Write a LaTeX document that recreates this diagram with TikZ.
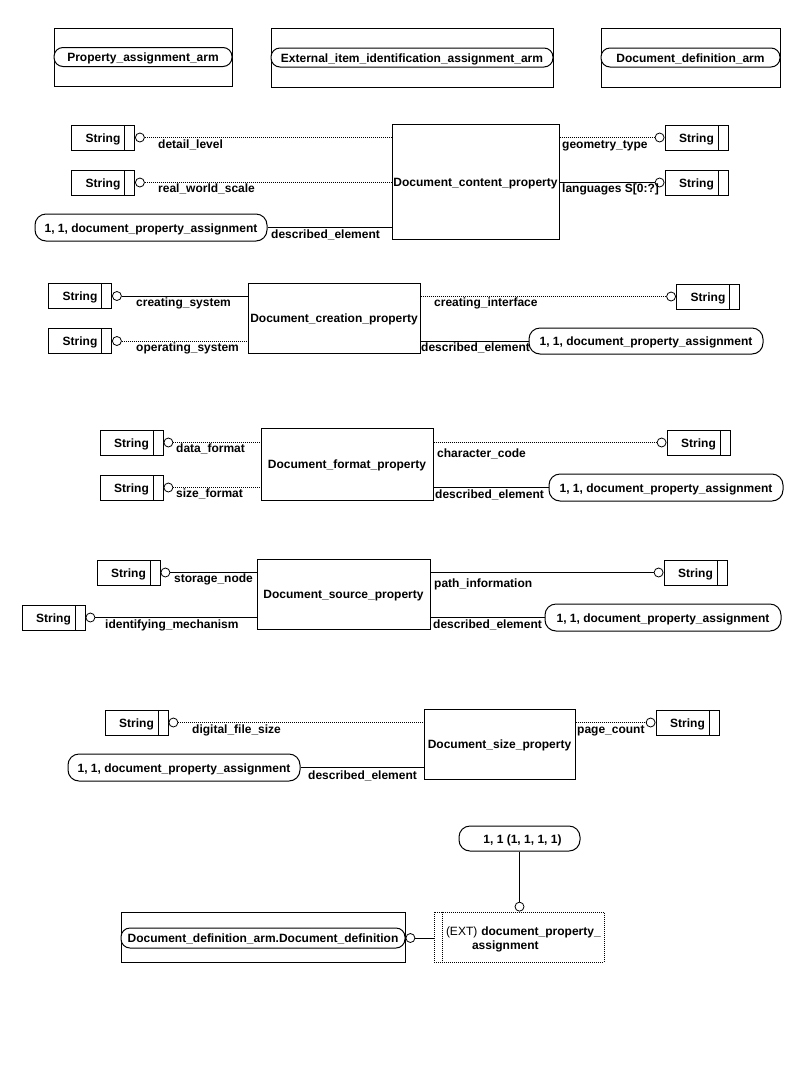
\documentclass[tikz,border=0pt]{standalone}
\usepackage{fontspec}
\setmainfont{Liberation Sans}
\begin{document}
\begin{tikzpicture}[x=1pt,y=-1pt,
  font=\fontsize{12}{14}\selectfont\bfseries,
  every node/.style={inner sep=0pt},
  frame/.style 2 args={draw, line width=1pt, minimum width=#1, minimum height=#2, text height=9pt, text depth=0pt},
  pill/.style 2 args={draw, line width=1pt, rounded corners=9pt, minimum width=#1, minimum height=#2, fill=white, text height=9pt, text depth=0pt},
  strbox/.style={draw, line width=1pt, minimum width=63pt, minimum height=25pt, text height=9pt, text depth=0pt,
    path picture={\draw[line width=1pt] ([xshift=-10pt]path picture bounding box.north east) -- ([xshift=-10pt]path picture bounding box.south east);}},
  conn/.style={draw, circle, line width=0.8pt, fill=white, minimum size=9pt},
  lab/.style={anchor=base west},
  solidl/.style={line width=1pt},
  dotl/.style={line width=0.9pt, dash pattern=on 1pt off 1pt},
]
\fill[white] (0,0) rectangle (810,1080);
\useasboundingbox (0,0) rectangle (810,1080);

% ---------- top row ----------
\node[frame={178pt}{58pt}] (b1) at (143,57) {};
\node[pill={178pt}{19pt}] (p1) at (b1.center) {Property\_assignment\_arm};
\node[frame={282pt}{59pt}] (b2) at (412,57.5) {};
\node[pill={282pt}{19pt}] (p2) at (b2.center) {External\_item\_identification\_assignment\_arm};
\node[frame={179pt}{59pt}] (b3) at (690.5,57.5) {};
\node[pill={179pt}{19pt}] (p3) at (b3.center) {Document\_definition\_arm};

% ---------- section 1 ----------
\node[frame={167pt}{115pt}] (dcp) at (475.5,181.5) {Document\_content\_property};
\node[strbox] (s11) at (103,137.5) {String\hspace{10pt}};
\node[conn, anchor=west] (c11) at (s11.east) {};
\node[strbox] (s12) at (103,182.5) {String\hspace{10pt}};
\node[conn, anchor=west] (c12) at (s12.east) {};
\node[pill={232pt}{27pt}, rounded corners=11pt] (a1) at (151,227.5) {1, 1, document\_property\_assignment};
\node[strbox] (s13) at (696.5,137.5) {String\hspace{10pt}};
\node[conn, anchor=east] (c13) at (s13.west) {};
\node[strbox] (s14) at (696.5,182.5) {String\hspace{10pt}};
\node[conn, anchor=east] (c14) at (s14.west) {};
\draw[dotl] (c11.east) -- (c11.east -| dcp.west);
\draw[dotl] (c12.east) -- (c12.east -| dcp.west);
\draw[solidl] (a1.east) -- (a1.east -| dcp.west);
\draw[dotl] (c13.west -| dcp.east) -- (c13.west);
\draw[solidl] (c14.west -| dcp.east) -- (c14.west);
\node[lab] (l11) at (158,148) {detail\_level};
\node[lab] (l12) at (158,192) {real\_world\_scale};
\node[lab] (l13) at (271,238) {described\_element};
\node[lab] (l14) at (562,148) {geometry\_type};
\node[lab] (l15) at (562,192) {languages S[0:?]};

% ---------- section 2 ----------
\node[frame={172pt}{70pt}] (dcr) at (334,318) {Document\_creation\_property};
\node[strbox] (s21) at (80,296) {String\hspace{10pt}};
\node[conn, anchor=west] (c21) at (s21.east) {};
\node[strbox] (s22) at (80,341) {String\hspace{10pt}};
\node[conn, anchor=west] (c22) at (s22.east) {};
\node[strbox] (s23) at (708,296.5) {String\hspace{10pt}};
\node[conn, anchor=east] (c23) at (s23.west) {};
\node[pill={234pt}{26pt}, rounded corners=11pt] (a2) at (646,341) {1, 1, document\_property\_assignment};
\draw[solidl] (c21.east) -- (c21.east -| dcr.west);
\draw[dotl] (c22.east) -- (c22.east -| dcr.west);
\draw[dotl] (c23.west -| dcr.east) -- (c23.west);
\draw[solidl] (a2.west -| dcr.east) -- (a2.west);
\node[lab] (l21) at (136,306) {creating\_system};
\node[lab] (l22) at (136,351) {operating\_system};
\node[lab] (l23) at (434,306) {creating\_interface};
\node[lab] (l24) at (421,351) {described\_element};

% ---------- section 3 ----------
\node[frame={172pt}{72pt}] (dfp) at (347,464) {Document\_format\_property};
\node[strbox] (s31) at (131.5,442.5) {String\hspace{10pt}};
\node[conn, anchor=west] (c31) at (s31.east) {};
\node[strbox] (s32) at (131.5,487.5) {String\hspace{10pt}};
\node[conn, anchor=west] (c32) at (s32.east) {};
\node[strbox] (s33) at (698.5,442.5) {String\hspace{10pt}};
\node[conn, anchor=east] (c33) at (s33.west) {};
\node[pill={234pt}{27pt}, rounded corners=11pt] (a3) at (666,487.5) {1, 1, document\_property\_assignment};
\draw[dotl] (c31.east) -- (c31.east -| dfp.west);
\draw[dotl] (c32.east) -- (c32.east -| dfp.west);
\draw[dotl] (c33.west -| dfp.east) -- (c33.west);
\draw[solidl] (a3.west -| dfp.east) -- (a3.west);
\node[lab] (l31) at (176,452) {data\_format};
\node[lab] (l32) at (176,497) {size\_format};
\node[lab] (l33) at (437,457) {character\_code};
\node[lab] (l34) at (435,498) {described\_element};

% ---------- section 4 ----------
\node[frame={173pt}{70pt}] (dsp) at (343.5,594) {Document\_source\_property};
\node[strbox] (s41) at (128.5,572.5) {String\hspace{10pt}};
\node[conn, anchor=west] (c41) at (s41.east) {};
\node[strbox] (s42) at (53.5,617.5) {String\hspace{10pt}};
\node[conn, anchor=west] (c42) at (s42.east) {};
\node[strbox] (s43) at (695.5,572.5) {String\hspace{10pt}};
\node[conn, anchor=east] (c43) at (s43.west) {};
\node[pill={236pt}{27pt}, rounded corners=11pt] (a4) at (663,617.5) {1, 1, document\_property\_assignment};
\draw[solidl] (c41.east) -- (c41.east -| dsp.west);
\draw[solidl] (c42.east) -- (c42.east -| dsp.west);
\draw[solidl] (c43.west -| dsp.east) -- (c43.west);
\draw[solidl] (a4.west -| dsp.east) -- (a4.west);
\node[lab] (l41) at (174,582) {storage\_node};
\node[lab] (l42) at (105,628) {identifying\_mechanism};
\node[lab] (l43) at (434,587) {path\_information};
\node[lab] (l44) at (433,628) {described\_element};

% ---------- section 5 ----------
\node[frame={151pt}{70pt}] (dzp) at (499.5,744) {Document\_size\_property};
\node[strbox] (s51) at (136.5,722.5) {String\hspace{10pt}};
\node[conn, anchor=west] (c51) at (s51.east) {};
\node[strbox] (s52) at (687.5,722.5) {String\hspace{10pt}};
\node[conn, anchor=east] (c52) at (s52.west) {};
\node[pill={232pt}{27pt}, rounded corners=11pt] (a5) at (184,767.5) {1, 1, document\_property\_assignment};
\draw[dotl] (c51.east) -- (c51.east -| dzp.west);
\draw[dotl] (c52.west -| dzp.east) -- (c52.west);
\draw[solidl] (a5.east) -- (a5.east -| dzp.west);
\node[lab] (l51) at (192,733) {digital\_file\_size};
\node[lab] (l52) at (577,733) {page\_count};
\node[lab] (l53) at (308,779) {described\_element};

% ---------- section 6 ----------
\node[pill={121pt}{25pt}, rounded corners=11pt] (q) at (519.5,838.5) {\hspace{6pt}1, 1 (1, 1, 1, 1)};
\node[draw, dotl, minimum width=170pt, minimum height=50pt, text width=164pt, inner xsep=3pt, align=left] (ext) at (519,937)
  {\mbox{\rule{0pt}{13pt}\hspace{9pt}{\mdseries (EXT)} document\_property\_}\\\mbox{\hspace{35pt}assignment}};
\draw[dotl] ([xshift=9pt]ext.north west) -- ([xshift=9pt]ext.south west);
\node[conn, anchor=south] (c61) at (q.south |- ext.north) {};
\draw[solidl] (q.south) -- (c61.north);
\node[frame={284pt}{50pt}] (dd) at (263,937) {};
\node[pill={284pt}{20pt}] (p6) at (263,938) {Document\_definition\_arm.Document\_definition};
\node[conn, anchor=west] (c62) at (p6.east) {};
\draw[solidl] (c62.east) -- (c62.east -| ext.west);
\end{tikzpicture}
\end{document}
